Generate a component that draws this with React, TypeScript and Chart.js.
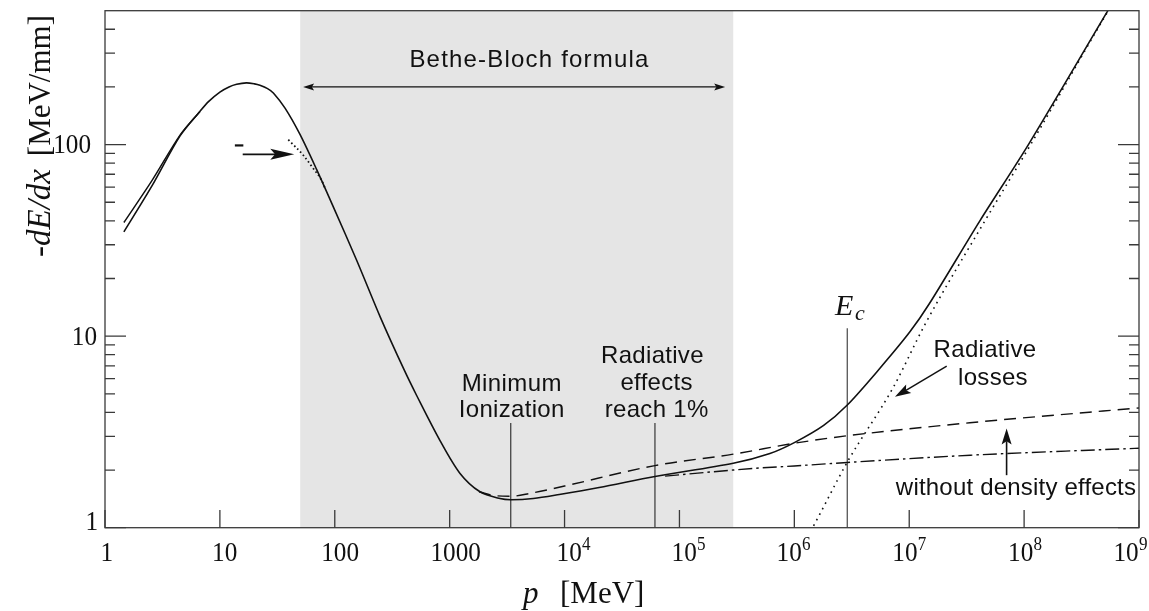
import React, { useEffect, useRef } from "react";
import { Chart, registerables } from "chart.js";

Chart.register(...registerables);

// ---------------- data ----------------
const X_MIN = 1;
const X_MAX = 1e9;
const Y_MIN = 1;
const Y_MAX = 500;

// total energy loss (solid)
const totalP = [1.46, 2.57, 4.5, 6.7, 8, 10, 12, 14, 17, 20, 22.3, 26, 29.2, 36.9, 49.8, 69.6, 97.1, 155, 250, 400, 516, 824, 1231, 1836, 2741, 3400, 5345, 9000, 20000, 61200, 294000, 613000, 1010000, 1800000, 2890000, 5560000, 10100000, 15000000, 41200000, 109000000, 536000000, 1000000000];
const totalLoss = [35, 61, 111, 149, 168, 188, 200, 206.5, 210, 207.5, 204, 196, 186, 155, 113, 74, 47.3, 24.9, 12.5, 6.7, 4.9, 2.85, 1.92, 1.54, 1.42, 1.4, 1.42, 1.49, 1.62, 1.85, 2.17, 2.44, 2.79, 3.42, 4.37, 6.8, 10.5, 14.8, 40, 100, 500, 930];

// second low-energy branch (solid)
const branchP = [1.46, 2.57, 4.5, 6.7];
const branchLoss = [39.2, 65, 112, 149];

// Bethe-Bloch extrapolation near the peak (dotted)
const betheP = [39.4, 53.2, 65, 76.9, 82];
const betheLoss = [106, 88, 75, 65, 59.4];

// ionization without density effects (dashed)
const noDensP = [1800, 2500, 3400, 5000, 10000, 61200, 294000, 1000000, 2890000, 33700000, 1000000000];
const noDensLoss = [1.54, 1.47, 1.46, 1.51, 1.65, 2.11, 2.42, 2.76, 3.02, 3.53, 4.22];

// ionization losses (dash-dot)
const ionP = [75000, 294000, 500000, 1000000, 2890000, 34000000, 1000000000];
const ionLoss = [1.86, 2.0, 2.05, 2.1, 2.19, 2.39, 2.6];

// radiative losses (dotted)
const radP = [1300000, 1440000, 2890000, 7260000, 13700000, 45600000, 114000000, 540000000, 1000000000];
const radLoss = [0.9, 1, 2.2, 5.4, 11.5, 40, 100, 500, 920];

// vertical markers
const minIonP = 3400;
const rad1P = 61200;
const ecP = 2890000;
const markerLow = 1;
const markerHigh = 3.52;
const ecHigh = 11;

// Bethe-Bloch band
const bandRange = [50, 294000];

// ticks
const xTickVals = [1, 10, 100, 1000, 1e4, 1e5, 1e6, 1e7, 1e8, 1e9];
const xTickBase = ["1", "10", "100", "1000", "10", "10", "10", "10", "10", "10"];
const xTickExp = ["", "", "", "", "4", "5", "6", "7", "8", "9"];
const yTickVals = [1, 10, 100];
const yTickText = ["1", "10", "100"];
const yMinorVals = [2, 3, 4, 5, 6, 7, 8, 9, 20, 30, 40, 50, 60, 70, 80, 90, 200, 300, 400];

// ---------------- styling ----------------
const xLabelShift = [1.7, 4.8, 5.3, 6, 4.6, 4.7, -5.2, -4.3, -3.4, -13];
const yLabelRight = [-7, -8, -14];
const yLabelBase = [2.3, 8.6, 8.4];
const AXIS = "#3a3a3a";
const INK = "#111111";
const SERIF = "'Liberation Serif', 'DejaVu Serif', serif";
const SANS = "'Liberation Sans', Arial, sans-serif";

const pts = (xs: number[], ys: number[]) => xs.map((x, i) => ({ x, y: ys[i] }));

function drawText(ctx: any, s: string, x: number, y: number, font: string, align: string = "center", sx = 1, spacing = "0px") {
  ctx.save();
  ctx.font = font;
  ctx.letterSpacing = spacing;
  ctx.textAlign = align;
  ctx.textBaseline = "alphabetic";
  ctx.fillStyle = INK;
  ctx.translate(x, y);
  ctx.scale(sx, 1);
  ctx.fillText(s, 0, 0);
  ctx.restore();
}

function arrow(ctx: any, x0: number, y0: number, x1: number, y1: number, len: number, half: number, lw: number, both = false) {
  const ang = Math.atan2(y1 - y0, x1 - x0);
  const head = (tx: number, ty: number, a: number) => {
    ctx.beginPath();
    ctx.moveTo(tx, ty);
    ctx.lineTo(tx - len * Math.cos(a) + half * Math.sin(a), ty - len * Math.sin(a) - half * Math.cos(a));
    ctx.lineTo(tx - len * 0.8 * Math.cos(a), ty - len * 0.8 * Math.sin(a));
    ctx.lineTo(tx - len * Math.cos(a) - half * Math.sin(a), ty - len * Math.sin(a) + half * Math.cos(a));
    ctx.closePath();
    ctx.fill();
  };
  ctx.save();
  ctx.strokeStyle = INK;
  ctx.fillStyle = INK;
  ctx.lineWidth = lw;
  ctx.beginPath();
  const sx0 = both ? x0 + len * 0.8 * Math.cos(ang) : x0;
  const sy0 = both ? y0 + len * 0.8 * Math.sin(ang) : y0;
  ctx.moveTo(sx0, sy0);
  ctx.lineTo(x1 - len * 0.8 * Math.cos(ang), y1 - len * 0.8 * Math.sin(ang));
  ctx.stroke();
  head(x1, y1, ang);
  if (both) head(x0, y0, ang + Math.PI);
  ctx.restore();
}

const decorPlugin = {
  id: "decor",
  beforeDatasetsDraw(chart: any) {
    const { ctx, chartArea: a, scales } = chart;
    const x = scales.x;
    const b0 = x.getPixelForValue(bandRange[0]);
    const b1 = x.getPixelForValue(bandRange[1]);
    ctx.save();
    ctx.fillStyle = "#e5e5e5";
    ctx.fillRect(b0, a.top, b1 - b0, a.bottom - a.top);
    ctx.restore();
  },
  afterDatasetsDraw(chart: any) {
    const { ctx, chartArea: a, scales } = chart;
    const x = scales.x;
    const y = scales.y;
    const px = (v: number) => x.getPixelForValue(v);
    const py = (v: number) => y.getPixelForValue(v);

    // frame
    ctx.save();
    ctx.strokeStyle = AXIS;
    ctx.lineWidth = 1.3;
    ctx.strokeRect(a.left, a.top, a.right - a.left, a.bottom - a.top);
    ctx.beginPath();
    xTickVals.forEach((v) => {
      const X = px(v);
      ctx.moveTo(X, a.bottom);
      ctx.lineTo(X, a.bottom - 17.7);
    });
    yTickVals.forEach((v) => {
      const Y = py(v);
      ctx.moveTo(a.left, Y);
      ctx.lineTo(a.left + 21, Y);
      ctx.moveTo(a.right, Y);
      ctx.lineTo(a.right - 21, Y);
    });
    yMinorVals.forEach((v) => {
      const Y = py(v);
      ctx.moveTo(a.left, Y);
      ctx.lineTo(a.left + 10, Y);
      ctx.moveTo(a.right, Y);
      ctx.lineTo(a.right - 10, Y);
    });
    ctx.stroke();
    ctx.restore();

    // x tick labels
    const mainFont = `28px ${SERIF}`;
    const supFont = `19px ${SERIF}`;
    const SX = 0.9;
    xTickVals.forEach((v, i) => {
      const cx = px(v) + xLabelShift[i];
      const base = a.bottom + 33.3;
      drawText(ctx, xTickBase[i], cx, base, mainFont, "center", SX);
      if (xTickExp[i]) {
        ctx.save();
        ctx.font = mainFont;
        const w = ctx.measureText(xTickBase[i]).width * SX;
        ctx.restore();
        drawText(ctx, xTickExp[i], cx + w / 2 + 0.3, base - 10.7, supFont, "left", SX);
      }
    });
    // y tick labels
    yTickVals.forEach((v, i) => {
      drawText(ctx, yTickText[i], a.left + yLabelRight[i], py(v) + yLabelBase[i], mainFont, "right", SX);
    });

    // axis titles
    ctx.save();
    ctx.fillStyle = INK;
    ctx.translate(50, 257);
    ctx.rotate(-Math.PI / 2);
    ctx.textBaseline = "alphabetic";
    ctx.font = `italic 33px ${SERIF}`;
    ctx.textAlign = "left";
    ctx.fillText("-dE/dx", 0, 0);
    ctx.font = `31px ${SERIF}`;
    ctx.textAlign = "right";
    ctx.fillText("[MeV/mm]", 242, 0);
    ctx.restore();

    drawText(ctx, "p", 523, 603, `italic 31px ${SERIF}`, "left");
    drawText(ctx, "[MeV]", 560, 603, `31px ${SERIF}`, "left");

    // annotations
    const sans = `24px ${SANS}`;
    drawText(ctx, "Bethe-Bloch formula", 529.5, 67.3, sans, "center", 1, "1.2px");
    arrow(ctx, px(53), py(200), px(2.5e5), py(200), 11, 3.5, 1.3, true);

    drawText(ctx, "Minimum", px(minIonP) + 1, 390.7, sans, "center", 1, "0.4px");
    drawText(ctx, "Ionization", px(minIonP) + 1, 417.3, sans, "center", 1, "0.3px");

    drawText(ctx, "Radiative", px(rad1P) - 2.5, 363.3, sans, "center", 1, "0.3px");
    drawText(ctx, "effects", px(rad1P) + 1.7, 390, sans, "center", 1, "0.3px");
    drawText(ctx, "reach 1%", px(rad1P) + 1.7, 417.3, sans, "center", 1, "0.3px");

    drawText(ctx, "E", 835, 315, `italic 30px ${SERIF}`, "left");
    drawText(ctx, "c", 855, 320, `italic 22px ${SERIF}`, "left");

    drawText(ctx, "Radiative", 985, 356.7, sans, "center", 1, "0.3px");
    drawText(ctx, "losses", 993, 385, sans, "center", 1, "0.3px");
    arrow(ctx, px(2.12e7), py(6.97), px(7.51e6), py(4.82), 16, 5, 1.5);

    drawText(ctx, "without density effects", 1016, 495, sans, "center", 1, "0.2px");
    arrow(ctx, px(7.04e7), py(1.88), px(7.04e7), py(3.3), 16, 5, 1.6);

    // low energy marker
    ctx.save();
    ctx.strokeStyle = INK;
    ctx.lineWidth = 2.2;
    ctx.beginPath();
    ctx.moveTo(px(13.5), py(99));
    ctx.lineTo(px(16), py(99));
    ctx.stroke();
    ctx.restore();
    arrow(ctx, px(15.8), py(89), px(44.4), py(89), 24, 5.5, 1.8);
  },
};

export default function App() {
  const ref = useRef<HTMLCanvasElement | null>(null);
  useEffect(() => {
    if (!ref.current) return;
    const line = (data: any[], opts: any) => ({
      data,
      borderColor: INK,
      borderWidth: 1.5,
      pointRadius: 0,
      fill: false,
      cubicInterpolationMode: "monotone",
      ...opts,
    });
    const straight = { cubicInterpolationMode: "default", tension: 0 };
    const smooth = { cubicInterpolationMode: "default", tension: 0.3 };
    const chart = new Chart(ref.current, {
      type: "line",
      data: {
        datasets: [
          line(pts(totalP, totalLoss), { label: "Total", borderWidth: 1.6, ...smooth }),
          line(pts(branchP, branchLoss), { label: "Branch", borderWidth: 1.5, ...smooth }),
          line(pts(betheP, betheLoss), { label: "Bethe-Bloch", borderWidth: 1.8, borderDash: [1.6, 2.6] }),
          line(pts(noDensP, noDensLoss), { label: "No density effect", borderWidth: 1.4, borderDash: [12, 7] }),
          line(pts(ionP, ionLoss), { label: "Ionization", borderWidth: 1.4, borderDash: [14, 4, 2.5, 4] }),
          line(pts(radP, radLoss), { label: "Radiative", borderWidth: 1.6, borderDash: [1.6, 4.6] }),
          line(pts([minIonP, minIonP], [markerLow, markerHigh]), { label: "Min", borderColor: "#444", borderWidth: 1.3, ...straight }),
          line(pts([rad1P, rad1P], [markerLow, markerHigh]), { label: "Rad1", borderColor: "#444", borderWidth: 1.3, ...straight }),
          line(pts([ecP, ecP], [markerLow, ecHigh]), { label: "Ec", borderColor: "#555", borderWidth: 1.3, ...straight }),
        ],
      },
      options: {
        animation: false,
        responsive: false,
        devicePixelRatio: 1,
        layout: { padding: { left: 105, right: 10, top: 10.7, bottom: 83.3 } },
        scales: {
          x: { type: "logarithmic", min: X_MIN, max: X_MAX, display: false },
          y: { type: "logarithmic", min: Y_MIN, max: Y_MAX, display: false },
        },
        plugins: { legend: { display: false }, tooltip: { enabled: false } },
        events: [],
      } as any,
      plugins: [decorPlugin],
    } as any);
    return () => chart.destroy();
  }, []);
  return (
    <div style={{ position: "fixed", left: 0, top: 0, width: 1149, height: 611, background: "#fff" }}>
      <canvas ref={ref} width={1149} height={611} style={{ display: "block" }} />
    </div>
  );
}
